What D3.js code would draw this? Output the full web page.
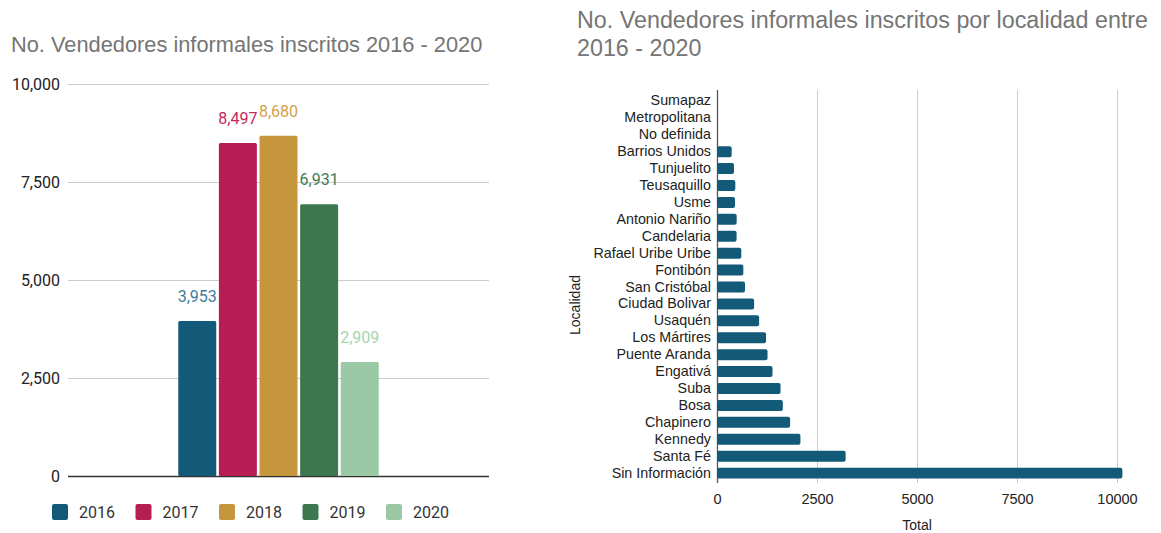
<!DOCTYPE html>
<html>
<head>
<meta charset="utf-8">
<script src="https://cdn.jsdelivr.net/npm/d3@7"></script>
<style>
  body { margin: 0; background: #fff; }
  svg { display: block; }
</style>
</head>
<body>
<script>
// left chart: totals per year
const years = ["2016", "2017", "2018", "2019", "2020"];
const yearTotals = [3953, 8497, 8680, 6931, 2909];
const yearColors = ["#125a78", "#b71c52", "#c6963c", "#3d774e", "#9bc9a5"];
const yearLabelColors = ["#3f7c9c", "#c42a62", "#d2a04a", "#3f7d52", "#a6d4b0"];
const leftTicks = [0, 2500, 5000, 7500, 10000];

// right chart: totals per localidad
const localidades = ["Sumapaz", "Metropolitana", "No definida", "Barrios Unidos", "Tunjuelito",
  "Teusaquillo", "Usme", "Antonio Nariño", "Candelaria", "Rafael Uribe Uribe", "Fontibón",
  "San Cristóbal", "Ciudad Bolivar", "Usaquén", "Los Mártires", "Puente Aranda", "Engativá",
  "Suba", "Bosa", "Chapinero", "Kennedy", "Santa Fé", "Sin Información"];
const localidadTotals = [0, 0, 0, 367, 425, 458, 450, 492, 490, 608, 658, 700, 928, 1053,
  1225, 1263, 1388, 1589, 1646, 1828, 2086, 3216, 10134];
const rightTicks = [0, 2500, 5000, 7500, 10000];

const W = 1161, H = 533;
const svg = d3.select("body").append("svg").attr("width", W).attr("height", H);

// ---------- left chart ----------
const left = svg.append("g");
left.append("text")
  .attr("x", 11).attr("y", 52)
  .attr("font-family", "Liberation Sans, Arial, sans-serif")
  .attr("font-size", 21.8).attr("fill", "#757575")
  .text("No. Vendedores informales inscritos 2016 - 2020");

const y = d3.scaleLinear().domain([0, 10000]).range([476, 84]);
const group = d3.scaleBand().domain(["all"]).range([68, 489]).paddingOuter(0.55).paddingInner(0);
const x = d3.scaleBand().domain(years).range([0, group.bandwidth()]).paddingInner(0.065);

const yAxis = left.append("g")
  .attr("transform", "translate(68,0)")
  .call(d3.axisLeft(y).tickValues(leftTicks).tickFormat(d3.format(",")).tickSize(-(489 - 68)).tickPadding(8));
yAxis.select(".domain").remove();
yAxis.selectAll(".tick line").attr("stroke", "#cccccc");
yAxis.selectAll(".tick line").filter(d => d === 0).attr("stroke", "#333333").attr("stroke-width", 1.3);
yAxis.selectAll(".tick text")
  .attr("font-family", "Roboto, sans-serif").attr("font-size", 16).attr("fill", "#222");

const gx = group("all");
left.selectAll(".bar")
  .data(years)
  .enter()
  .append("rect")
  .attr("class", "bar")
  .attr("x", d => gx + x(d))
  .attr("y", (d, i) => y(yearTotals[i]))
  .attr("width", x.bandwidth())
  .attr("height", (d, i) => y(0) - y(yearTotals[i]))
  .attr("rx", 1.5)
  .attr("fill", (d, i) => yearColors[i]);

left.selectAll(".lbl")
  .data(years)
  .enter()
  .append("text")
  .attr("class", "lbl")
  .attr("x", d => gx + x(d) + x.bandwidth() / 2)
  .attr("y", (d, i) => y(yearTotals[i]) - 19)
  .attr("text-anchor", "middle")
  .attr("font-family", "Roboto, sans-serif").attr("font-size", 16)
  .attr("fill", (d, i) => yearLabelColors[i])
  .text((d, i) => d3.format(",")(yearTotals[i]));

const legend = left.selectAll(".leg")
  .data(years)
  .enter()
  .append("g")
  .attr("transform", (d, i) => `translate(${52 + i * 83.5},504)`);
legend.append("rect")
  .attr("width", 16).attr("height", 16).attr("rx", 2)
  .attr("fill", (d, i) => yearColors[i]);
legend.append("text")
  .attr("x", 27).attr("y", 14)
  .attr("font-family", "Roboto, sans-serif").attr("font-size", 16).attr("fill", "#333")
  .text(d => d);

// ---------- right chart ----------
const right = svg.append("g");
right.append("text")
  .attr("font-family", "Liberation Sans, Arial, sans-serif")
  .attr("font-size", 23.3).attr("fill", "#757575")
  .selectAll("tspan")
  .data(["No. Vendedores informales inscritos por localidad entre", "2016 - 2020"])
  .enter()
  .append("tspan")
  .attr("x", 577).attr("y", (d, i) => 28 + i * 28)
  .text(d => d);

const rx = d3.scaleLinear().domain([0, 10000]).range([717, 1117]);
const ry = d3.scaleBand().domain(localidades).range([92.5, 481.5]).paddingInner(0.35).paddingOuter(0.17);

const xAxis = right.append("g")
  .attr("transform", "translate(0,483)")
  .call(d3.axisBottom(rx).tickValues(rightTicks).tickFormat(d3.format("d")).tickSize(-(483 - 90)).tickPadding(11));
xAxis.select(".domain").remove();
xAxis.selectAll(".tick line").attr("stroke", "#cccccc");
xAxis.selectAll(".tick line").filter(d => d === 0).attr("stroke", "#555").attr("stroke-width", 1.3);
xAxis.selectAll(".tick text")
  .attr("font-family", "Liberation Sans, Arial, sans-serif").attr("font-size", 14.5).attr("fill", "#222");

right.selectAll(".hbar")
  .data(localidades)
  .enter()
  .append("rect")
  .attr("class", "hbar")
  .attr("x", rx(0))
  .attr("y", d => ry(d))
  .attr("width", (d, i) => rx(localidadTotals[i]) - rx(0))
  .attr("height", ry.bandwidth())
  .attr("rx", 2)
  .attr("fill", "#125a78");

const yAxisR = right.append("g")
  .attr("transform", "translate(717,0)")
  .call(d3.axisLeft(ry).tickSize(0).tickPadding(6));
yAxisR.select(".domain").remove();
yAxisR.selectAll(".tick text")
  .attr("font-family", "Liberation Sans, Arial, sans-serif").attr("font-size", 14.3).attr("fill", "#222");

right.append("text")
  .attr("transform", "translate(580,305) rotate(-90)")
  .attr("text-anchor", "middle")
  .attr("font-family", "Liberation Sans, Arial, sans-serif").attr("font-size", 14).attr("fill", "#222")
  .text("Localidad");
right.append("text")
  .attr("x", 917).attr("y", 530)
  .attr("text-anchor", "middle")
  .attr("font-family", "Liberation Sans, Arial, sans-serif").attr("font-size", 14).attr("fill", "#222")
  .text("Total");
</script>
</body>
</html>
